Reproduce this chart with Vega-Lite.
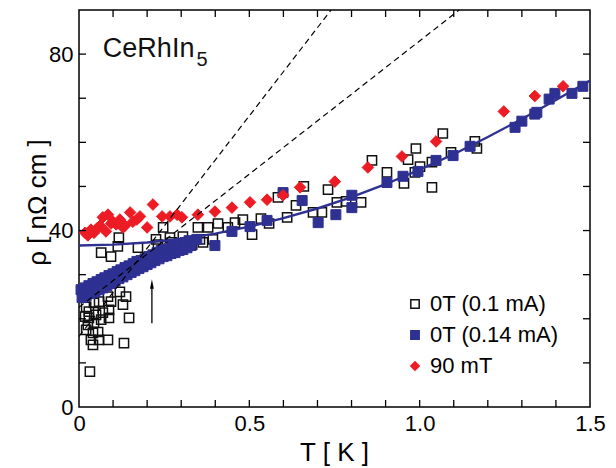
{
  "$schema": "https://vega.github.io/schema/vega-lite/v6.json",
  "width": 511,
  "height": 397,
  "autosize": {"type": "none"},
  "padding": {"left": 79, "top": 10, "right": 26, "bottom": 61},
  "config": {
    "font": "Liberation Sans",
    "view": {"stroke": "black", "strokeWidth": 1.5},
    "axis": {"grid": false, "domain": false, "ticks": false, "zindex": 0, "labelFlush": false, "labelFontSize": 22, "labelColor": "black", "titleFontSize": 26, "titleColor": "black", "titleFontWeight": "normal", "labelPadding": 6},
    "legend": {"orient": "none", "legendX": 325, "legendY": 283, "labelFontSize": 22, "labelColor": "black", "symbolSize": 70, "symbolStrokeWidth": 1.5, "rowPadding": 9, "labelOffset": 4, "padding": 0}
  },
  "datasets": {
    "pts": [
      {"T": 0.032, "rho": 8.0, "series": "0T (0.1 mA)"},
      {"T": 0.021, "rho": 17.5, "series": "0T (0.1 mA)"},
      {"T": 0.041, "rho": 16.8, "series": "0T (0.1 mA)"},
      {"T": 0.056, "rho": 17.0, "series": "0T (0.1 mA)"},
      {"T": 0.035, "rho": 15.2, "series": "0T (0.1 mA)"},
      {"T": 0.059, "rho": 15.2, "series": "0T (0.1 mA)"},
      {"T": 0.085, "rho": 15.2, "series": "0T (0.1 mA)"},
      {"T": 0.041, "rho": 14.1, "series": "0T (0.1 mA)"},
      {"T": 0.132, "rho": 14.5, "series": "0T (0.1 mA)"},
      {"T": 0.026, "rho": 18.6, "series": "0T (0.1 mA)"},
      {"T": 0.044, "rho": 19.1, "series": "0T (0.1 mA)"},
      {"T": 0.065, "rho": 19.8, "series": "0T (0.1 mA)"},
      {"T": 0.088, "rho": 20.2, "series": "0T (0.1 mA)"},
      {"T": 0.147, "rho": 20.2, "series": "0T (0.1 mA)"},
      {"T": 0.029, "rho": 20.2, "series": "0T (0.1 mA)"},
      {"T": 0.050, "rho": 20.9, "series": "0T (0.1 mA)"},
      {"T": 0.070, "rho": 21.4, "series": "0T (0.1 mA)"},
      {"T": 0.088, "rho": 22.0, "series": "0T (0.1 mA)"},
      {"T": 0.021, "rho": 22.7, "series": "0T (0.1 mA)"},
      {"T": 0.029, "rho": 21.6, "series": "0T (0.1 mA)"},
      {"T": 0.044, "rho": 23.6, "series": "0T (0.1 mA)"},
      {"T": 0.059, "rho": 23.9, "series": "0T (0.1 mA)"},
      {"T": 0.085, "rho": 25.0, "series": "0T (0.1 mA)"},
      {"T": 0.094, "rho": 23.9, "series": "0T (0.1 mA)"},
      {"T": 0.138, "rho": 25.0, "series": "0T (0.1 mA)"},
      {"T": 0.129, "rho": 23.2, "series": "0T (0.1 mA)"},
      {"T": 0.120, "rho": 26.1, "series": "0T (0.1 mA)"},
      {"T": 0.018, "rho": 20.5, "series": "0T (0.1 mA)"},
      {"T": 0.065, "rho": 35.0, "series": "0T (0.1 mA)"},
      {"T": 0.094, "rho": 34.1, "series": "0T (0.1 mA)"},
      {"T": 0.117, "rho": 38.4, "series": "0T (0.1 mA)"},
      {"T": 0.114, "rho": 36.4, "series": "0T (0.1 mA)"},
      {"T": 0.173, "rho": 36.1, "series": "0T (0.1 mA)"},
      {"T": 0.226, "rho": 38.0, "series": "0T (0.1 mA)"},
      {"T": 0.247, "rho": 40.7, "series": "0T (0.1 mA)"},
      {"T": 0.232, "rho": 36.8, "series": "0T (0.1 mA)"},
      {"T": 0.273, "rho": 37.3, "series": "0T (0.1 mA)"},
      {"T": 0.267, "rho": 38.4, "series": "0T (0.1 mA)"},
      {"T": 0.288, "rho": 35.7, "series": "0T (0.1 mA)"},
      {"T": 0.305, "rho": 38.6, "series": "0T (0.1 mA)"},
      {"T": 0.317, "rho": 36.8, "series": "0T (0.1 mA)"},
      {"T": 0.332, "rho": 36.8, "series": "0T (0.1 mA)"},
      {"T": 0.349, "rho": 40.7, "series": "0T (0.1 mA)"},
      {"T": 0.355, "rho": 38.0, "series": "0T (0.1 mA)"},
      {"T": 0.364, "rho": 37.3, "series": "0T (0.1 mA)"},
      {"T": 0.379, "rho": 40.7, "series": "0T (0.1 mA)"},
      {"T": 0.393, "rho": 38.0, "series": "0T (0.1 mA)"},
      {"T": 0.408, "rho": 41.6, "series": "0T (0.1 mA)"},
      {"T": 0.437, "rho": 40.7, "series": "0T (0.1 mA)"},
      {"T": 0.458, "rho": 41.8, "series": "0T (0.1 mA)"},
      {"T": 0.481, "rho": 42.5, "series": "0T (0.1 mA)"},
      {"T": 0.508, "rho": 39.1, "series": "0T (0.1 mA)"},
      {"T": 0.534, "rho": 42.7, "series": "0T (0.1 mA)"},
      {"T": 0.558, "rho": 41.6, "series": "0T (0.1 mA)"},
      {"T": 0.584, "rho": 47.5, "series": "0T (0.1 mA)"},
      {"T": 0.611, "rho": 43.0, "series": "0T (0.1 mA)"},
      {"T": 0.637, "rho": 45.7, "series": "0T (0.1 mA)"},
      {"T": 0.660, "rho": 50.0, "series": "0T (0.1 mA)"},
      {"T": 0.687, "rho": 44.1, "series": "0T (0.1 mA)"},
      {"T": 0.713, "rho": 44.1, "series": "0T (0.1 mA)"},
      {"T": 0.731, "rho": 49.3, "series": "0T (0.1 mA)"},
      {"T": 0.757, "rho": 46.4, "series": "0T (0.1 mA)"},
      {"T": 0.784, "rho": 46.6, "series": "0T (0.1 mA)"},
      {"T": 0.828, "rho": 46.4, "series": "0T (0.1 mA)"},
      {"T": 0.860, "rho": 55.9, "series": "0T (0.1 mA)"},
      {"T": 0.904, "rho": 53.2, "series": "0T (0.1 mA)"},
      {"T": 0.954, "rho": 50.7, "series": "0T (0.1 mA)"},
      {"T": 0.966, "rho": 56.1, "series": "0T (0.1 mA)"},
      {"T": 0.989, "rho": 58.6, "series": "0T (0.1 mA)"},
      {"T": 0.986, "rho": 53.2, "series": "0T (0.1 mA)"},
      {"T": 1.001, "rho": 54.5, "series": "0T (0.1 mA)"},
      {"T": 1.036, "rho": 55.5, "series": "0T (0.1 mA)"},
      {"T": 1.036, "rho": 49.8, "series": "0T (0.1 mA)"},
      {"T": 1.068, "rho": 62.0, "series": "0T (0.1 mA)"},
      {"T": 1.092, "rho": 57.7, "series": "0T (0.1 mA)"},
      {"T": 1.162, "rho": 60.2, "series": "0T (0.1 mA)"},
      {"T": 1.168, "rho": 58.6, "series": "0T (0.1 mA)"},

      {"T": 0.006, "rho": 26.6, "series": "0T (0.14 mA)"},
      {"T": 0.009, "rho": 24.8, "series": "0T (0.14 mA)"},
      {"T": 0.018, "rho": 27.0, "series": "0T (0.14 mA)"},
      {"T": 0.021, "rho": 25.2, "series": "0T (0.14 mA)"},
      {"T": 0.029, "rho": 27.5, "series": "0T (0.14 mA)"},
      {"T": 0.032, "rho": 25.7, "series": "0T (0.14 mA)"},
      {"T": 0.041, "rho": 28.0, "series": "0T (0.14 mA)"},
      {"T": 0.047, "rho": 26.1, "series": "0T (0.14 mA)"},
      {"T": 0.053, "rho": 28.4, "series": "0T (0.14 mA)"},
      {"T": 0.059, "rho": 26.6, "series": "0T (0.14 mA)"},
      {"T": 0.065, "rho": 28.9, "series": "0T (0.14 mA)"},
      {"T": 0.070, "rho": 27.0, "series": "0T (0.14 mA)"},
      {"T": 0.076, "rho": 29.3, "series": "0T (0.14 mA)"},
      {"T": 0.082, "rho": 27.5, "series": "0T (0.14 mA)"},
      {"T": 0.088, "rho": 29.8, "series": "0T (0.14 mA)"},
      {"T": 0.094, "rho": 28.0, "series": "0T (0.14 mA)"},
      {"T": 0.100, "rho": 30.2, "series": "0T (0.14 mA)"},
      {"T": 0.106, "rho": 28.6, "series": "0T (0.14 mA)"},
      {"T": 0.112, "rho": 30.7, "series": "0T (0.14 mA)"},
      {"T": 0.117, "rho": 29.1, "series": "0T (0.14 mA)"},
      {"T": 0.123, "rho": 31.1, "series": "0T (0.14 mA)"},
      {"T": 0.129, "rho": 29.5, "series": "0T (0.14 mA)"},
      {"T": 0.135, "rho": 31.6, "series": "0T (0.14 mA)"},
      {"T": 0.141, "rho": 30.0, "series": "0T (0.14 mA)"},
      {"T": 0.147, "rho": 32.0, "series": "0T (0.14 mA)"},
      {"T": 0.153, "rho": 30.5, "series": "0T (0.14 mA)"},
      {"T": 0.159, "rho": 32.5, "series": "0T (0.14 mA)"},
      {"T": 0.164, "rho": 30.9, "series": "0T (0.14 mA)"},
      {"T": 0.170, "rho": 33.0, "series": "0T (0.14 mA)"},
      {"T": 0.176, "rho": 31.4, "series": "0T (0.14 mA)"},
      {"T": 0.182, "rho": 33.2, "series": "0T (0.14 mA)"},
      {"T": 0.188, "rho": 31.8, "series": "0T (0.14 mA)"},
      {"T": 0.194, "rho": 33.6, "series": "0T (0.14 mA)"},
      {"T": 0.200, "rho": 32.3, "series": "0T (0.14 mA)"},
      {"T": 0.205, "rho": 34.1, "series": "0T (0.14 mA)"},
      {"T": 0.211, "rho": 32.7, "series": "0T (0.14 mA)"},
      {"T": 0.217, "rho": 34.5, "series": "0T (0.14 mA)"},
      {"T": 0.223, "rho": 33.2, "series": "0T (0.14 mA)"},
      {"T": 0.229, "rho": 35.0, "series": "0T (0.14 mA)"},
      {"T": 0.235, "rho": 33.6, "series": "0T (0.14 mA)"},
      {"T": 0.241, "rho": 35.5, "series": "0T (0.14 mA)"},
      {"T": 0.247, "rho": 34.1, "series": "0T (0.14 mA)"},
      {"T": 0.252, "rho": 35.7, "series": "0T (0.14 mA)"},
      {"T": 0.258, "rho": 34.3, "series": "0T (0.14 mA)"},
      {"T": 0.264, "rho": 35.9, "series": "0T (0.14 mA)"},
      {"T": 0.270, "rho": 34.8, "series": "0T (0.14 mA)"},
      {"T": 0.276, "rho": 36.4, "series": "0T (0.14 mA)"},
      {"T": 0.282, "rho": 35.0, "series": "0T (0.14 mA)"},
      {"T": 0.288, "rho": 36.6, "series": "0T (0.14 mA)"},
      {"T": 0.294, "rho": 35.5, "series": "0T (0.14 mA)"},
      {"T": 0.299, "rho": 37.0, "series": "0T (0.14 mA)"},
      {"T": 0.305, "rho": 35.7, "series": "0T (0.14 mA)"},
      {"T": 0.311, "rho": 37.3, "series": "0T (0.14 mA)"},
      {"T": 0.317, "rho": 36.1, "series": "0T (0.14 mA)"},
      {"T": 0.323, "rho": 37.7, "series": "0T (0.14 mA)"},
      {"T": 0.329, "rho": 36.6, "series": "0T (0.14 mA)"},
      {"T": 0.346, "rho": 38.0, "series": "0T (0.14 mA)"},
      {"T": 0.399, "rho": 36.6, "series": "0T (0.14 mA)"},
      {"T": 0.449, "rho": 39.8, "series": "0T (0.14 mA)"},
      {"T": 0.502, "rho": 40.9, "series": "0T (0.14 mA)"},
      {"T": 0.552, "rho": 42.3, "series": "0T (0.14 mA)"},
      {"T": 0.599, "rho": 48.6, "series": "0T (0.14 mA)"},
      {"T": 0.655, "rho": 46.8, "series": "0T (0.14 mA)"},
      {"T": 0.702, "rho": 41.8, "series": "0T (0.14 mA)"},
      {"T": 0.754, "rho": 43.6, "series": "0T (0.14 mA)"},
      {"T": 0.801, "rho": 48.0, "series": "0T (0.14 mA)"},
      {"T": 0.801, "rho": 45.2, "series": "0T (0.14 mA)"},
      {"T": 0.904, "rho": 50.9, "series": "0T (0.14 mA)"},
      {"T": 0.951, "rho": 52.3, "series": "0T (0.14 mA)"},
      {"T": 0.995, "rho": 53.4, "series": "0T (0.14 mA)"},
      {"T": 1.048, "rho": 55.9, "series": "0T (0.14 mA)"},
      {"T": 1.098, "rho": 57.0, "series": "0T (0.14 mA)"},
      {"T": 1.148, "rho": 59.1, "series": "0T (0.14 mA)"},
      {"T": 1.280, "rho": 63.4, "series": "0T (0.14 mA)"},
      {"T": 1.300, "rho": 64.8, "series": "0T (0.14 mA)"},
      {"T": 1.338, "rho": 66.4, "series": "0T (0.14 mA)"},
      {"T": 1.344, "rho": 66.8, "series": "0T (0.14 mA)"},
      {"T": 1.380, "rho": 69.8, "series": "0T (0.14 mA)"},
      {"T": 1.397, "rho": 71.1, "series": "0T (0.14 mA)"},
      {"T": 1.447, "rho": 71.1, "series": "0T (0.14 mA)"},
      {"T": 1.479, "rho": 72.7, "series": "0T (0.14 mA)"},

      {"T": 0.018, "rho": 39.5, "series": "90 mT"},
      {"T": 0.026, "rho": 38.9, "series": "90 mT"},
      {"T": 0.035, "rho": 40.2, "series": "90 mT"},
      {"T": 0.044, "rho": 39.5, "series": "90 mT"},
      {"T": 0.053, "rho": 40.5, "series": "90 mT"},
      {"T": 0.062, "rho": 41.1, "series": "90 mT"},
      {"T": 0.070, "rho": 43.0, "series": "90 mT"},
      {"T": 0.079, "rho": 39.8, "series": "90 mT"},
      {"T": 0.085, "rho": 43.6, "series": "90 mT"},
      {"T": 0.094, "rho": 41.6, "series": "90 mT"},
      {"T": 0.100, "rho": 42.0, "series": "90 mT"},
      {"T": 0.109, "rho": 41.4, "series": "90 mT"},
      {"T": 0.120, "rho": 42.5, "series": "90 mT"},
      {"T": 0.129, "rho": 40.7, "series": "90 mT"},
      {"T": 0.135, "rho": 41.1, "series": "90 mT"},
      {"T": 0.150, "rho": 44.1, "series": "90 mT"},
      {"T": 0.158, "rho": 42.0, "series": "90 mT"},
      {"T": 0.170, "rho": 42.5, "series": "90 mT"},
      {"T": 0.179, "rho": 43.2, "series": "90 mT"},
      {"T": 0.200, "rho": 40.7, "series": "90 mT"},
      {"T": 0.217, "rho": 45.9, "series": "90 mT"},
      {"T": 0.244, "rho": 43.2, "series": "90 mT"},
      {"T": 0.267, "rho": 43.2, "series": "90 mT"},
      {"T": 0.288, "rho": 43.6, "series": "90 mT"},
      {"T": 0.302, "rho": 43.0, "series": "90 mT"},
      {"T": 0.349, "rho": 43.6, "series": "90 mT"},
      {"T": 0.399, "rho": 44.3, "series": "90 mT"},
      {"T": 0.449, "rho": 45.2, "series": "90 mT"},
      {"T": 0.502, "rho": 46.4, "series": "90 mT"},
      {"T": 0.552, "rho": 47.0, "series": "90 mT"},
      {"T": 0.599, "rho": 48.0, "series": "90 mT"},
      {"T": 0.649, "rho": 49.8, "series": "90 mT"},
      {"T": 0.751, "rho": 51.1, "series": "90 mT"},
      {"T": 0.848, "rho": 54.3, "series": "90 mT"},
      {"T": 0.948, "rho": 56.8, "series": "90 mT"},
      {"T": 1.048, "rho": 60.2, "series": "90 mT"},
      {"T": 1.247, "rho": 67.0, "series": "90 mT"},
      {"T": 1.338, "rho": 70.5, "series": "90 mT"},
      {"T": 1.421, "rho": 72.7, "series": "90 mT"}
    ],
    "fit": [
      {"T": 0.0, "rho": 36.6}, {"T": 0.1, "rho": 36.8}, {"T": 0.2, "rho": 37.3}, {"T": 0.3, "rho": 38.1},
      {"T": 0.4, "rho": 39.3}, {"T": 0.5, "rho": 40.9}, {"T": 0.6, "rho": 42.8}, {"T": 0.7, "rho": 45.0},
      {"T": 0.8, "rho": 47.6}, {"T": 0.9, "rho": 50.5}, {"T": 1.0, "rho": 53.8}, {"T": 1.1, "rho": 57.3},
      {"T": 1.2, "rho": 61.2}, {"T": 1.3, "rho": 65.3}, {"T": 1.4, "rho": 69.6}, {"T": 1.5, "rho": 74.0}
    ],
    "dash": [
      {"T": 0.0, "rho": 16.0, "line": "a"}, {"T": 0.74, "rho": 90.0, "line": "a"},
      {"T": 0.0, "rho": 22.6, "line": "b"}, {"T": 1.116, "rho": 90.0, "line": "b"}
    ],
    "arrow": [{"T": 0.214, "y1": 19.0, "y2": 27.2, "head": 27.9}],
    "labels": [
      {"T": 0.070, "rho": 79.3, "txt": "CeRhIn", "size": "big"},
      {"T": 0.345, "rho": 77.4, "txt": "5", "size": "small"}
    ],
    "xticks": [{"v": 0.1}, {"v": 0.2}, {"v": 0.3}, {"v": 0.4}, {"v": 0.5}, {"v": 0.6}, {"v": 0.7}, {"v": 0.8}, {"v": 0.9}, {"v": 1.0}, {"v": 1.1}, {"v": 1.2}, {"v": 1.3}, {"v": 1.4}],
    "yticks": [{"v": 10}, {"v": 20}, {"v": 30}, {"v": 40}, {"v": 50}, {"v": 60}, {"v": 70}, {"v": 80}]
  },
  "layer": [
    {
      "data": {"name": "pts"},
      "transform": [{"filter": "datum.series == '0T (0.1 mA)'"}],
      "mark": {"type": "point", "size": 85, "strokeWidth": 1.5, "opacity": 1},
      "encoding": {
        "x": {"field": "T", "type": "quantitative", "scale": {"domain": [0, 1.5], "nice": false},
          "axis": {"orient": "bottom", "title": "T [ K ]", "values": [0, 0.5, 1.0, 1.5],
            "labelExpr": "datum.value == 0 ? '0' : format(datum.value, '.1f')",
            "titleX": 255, "titleY": 32, "titleBaseline": "top", "titleAlign": "center"}},
        "y": {"field": "rho", "type": "quantitative", "scale": {"domain": [0, 90], "nice": false},
          "axis": {"orient": "left", "title": "ρ  [ nΩ cm ]", "values": [0, 40, 80],
            "titleX": -29, "titleY": 192, "titleAngle": -90, "titleBaseline": "bottom", "titleAlign": "center"}},
        "fill": {"field": "series", "type": "nominal", "title": null, "scale": {"domain": ["0T (0.1 mA)", "0T (0.14 mA)", "90 mT"], "range": ["transparent", "#2e3192", "#ed1c24"]}},
        "stroke": {"field": "series", "type": "nominal", "title": null, "scale": {"domain": ["0T (0.1 mA)", "0T (0.14 mA)", "90 mT"], "range": ["#111111", "#2e3192", "#ed1c24"]}},
        "shape": {"field": "series", "type": "nominal", "title": null, "scale": {"domain": ["0T (0.1 mA)", "0T (0.14 mA)", "90 mT"], "range": ["square", "square", "diamond"]}}
      }
    },
    {
      "data": {"name": "pts"},
      "transform": [{"filter": "datum.series == '0T (0.14 mA)'"}],
      "mark": {"type": "point", "size": 100, "strokeWidth": 1, "opacity": 1},
      "encoding": {
        "x": {"field": "T", "type": "quantitative"},
        "y": {"field": "rho", "type": "quantitative"},
        "fill": {"field": "series", "type": "nominal", "title": null},
        "stroke": {"field": "series", "type": "nominal", "title": null},
        "shape": {"field": "series", "type": "nominal", "title": null}
      }
    },
    {
      "data": {"name": "pts"},
      "transform": [{"filter": "datum.series == '90 mT'"}],
      "mark": {"type": "point", "size": 135, "strokeWidth": 1, "opacity": 1},
      "encoding": {
        "x": {"field": "T", "type": "quantitative"},
        "y": {"field": "rho", "type": "quantitative"},
        "fill": {"field": "series", "type": "nominal", "title": null},
        "stroke": {"field": "series", "type": "nominal", "title": null},
        "shape": {"field": "series", "type": "nominal", "title": null}
      }
    },
    {
      "data": {"name": "fit"},
      "mark": {"type": "line", "color": "#2e3192", "strokeWidth": 2.4, "clip": true},
      "encoding": {
        "x": {"field": "T", "type": "quantitative"},
        "y": {"field": "rho", "type": "quantitative"}
      }
    },
    {
      "data": {"name": "dash"},
      "mark": {"type": "line", "color": "black", "strokeWidth": 1.2, "strokeDash": [6, 4], "clip": true},
      "encoding": {
        "x": {"field": "T", "type": "quantitative"},
        "y": {"field": "rho", "type": "quantitative"},
        "detail": {"field": "line"}
      }
    },
    {
      "data": {"name": "arrow"},
      "mark": {"type": "rule", "color": "black", "strokeWidth": 1.3},
      "encoding": {
        "x": {"field": "T", "type": "quantitative"},
        "y": {"field": "y1", "type": "quantitative"},
        "y2": {"field": "y2"}
      }
    },
    {
      "data": {"name": "arrow"},
      "mark": {"type": "point", "shape": "M0,-1L0.4,1L-0.4,1Z", "filled": true, "color": "black", "size": 90, "opacity": 1},
      "encoding": {
        "x": {"field": "T", "type": "quantitative"},
        "y": {"field": "head", "type": "quantitative"}
      }
    },
    {
      "data": {"name": "xticks"},
      "mark": {"type": "tick", "orient": "vertical", "size": 7, "thickness": 1.3, "color": "black", "opacity": 1, "zindex": 3},
      "encoding": {
        "x": {"field": "v", "type": "quantitative"},
        "y": {"datum": 0.8, "type": "quantitative"}
      }
    },
    {
      "data": {"name": "xticks"},
      "mark": {"type": "tick", "orient": "vertical", "size": 7, "thickness": 1.3, "color": "black", "opacity": 1, "zindex": 3},
      "encoding": {
        "x": {"field": "v", "type": "quantitative"},
        "y": {"datum": 89.2, "type": "quantitative"}
      }
    },
    {
      "data": {"name": "yticks"},
      "mark": {"type": "tick", "orient": "horizontal", "size": 7, "thickness": 1.3, "color": "black", "opacity": 1, "zindex": 3},
      "encoding": {
        "y": {"field": "v", "type": "quantitative"},
        "x": {"datum": 0.0103, "type": "quantitative"}
      }
    },
    {
      "data": {"name": "yticks"},
      "mark": {"type": "tick", "orient": "horizontal", "size": 7, "thickness": 1.3, "color": "black", "opacity": 1, "zindex": 3},
      "encoding": {
        "y": {"field": "v", "type": "quantitative"},
        "x": {"datum": 1.4897, "type": "quantitative"}
      }
    },
    {
      "data": {"name": "labels"},
      "transform": [{"filter": "datum.size == 'big'"}],
      "mark": {"type": "text", "fontSize": 27, "align": "left", "baseline": "alphabetic", "color": "#111111"},
      "encoding": {
        "x": {"field": "T", "type": "quantitative"},
        "y": {"field": "rho", "type": "quantitative"},
        "text": {"field": "txt"}
      }
    },
    {
      "data": {"name": "labels"},
      "transform": [{"filter": "datum.size == 'small'"}],
      "mark": {"type": "text", "fontSize": 20, "align": "left", "baseline": "alphabetic", "color": "#111111"},
      "encoding": {
        "x": {"field": "T", "type": "quantitative"},
        "y": {"field": "rho", "type": "quantitative"},
        "text": {"field": "txt"}
      }
    }
  ]
}
